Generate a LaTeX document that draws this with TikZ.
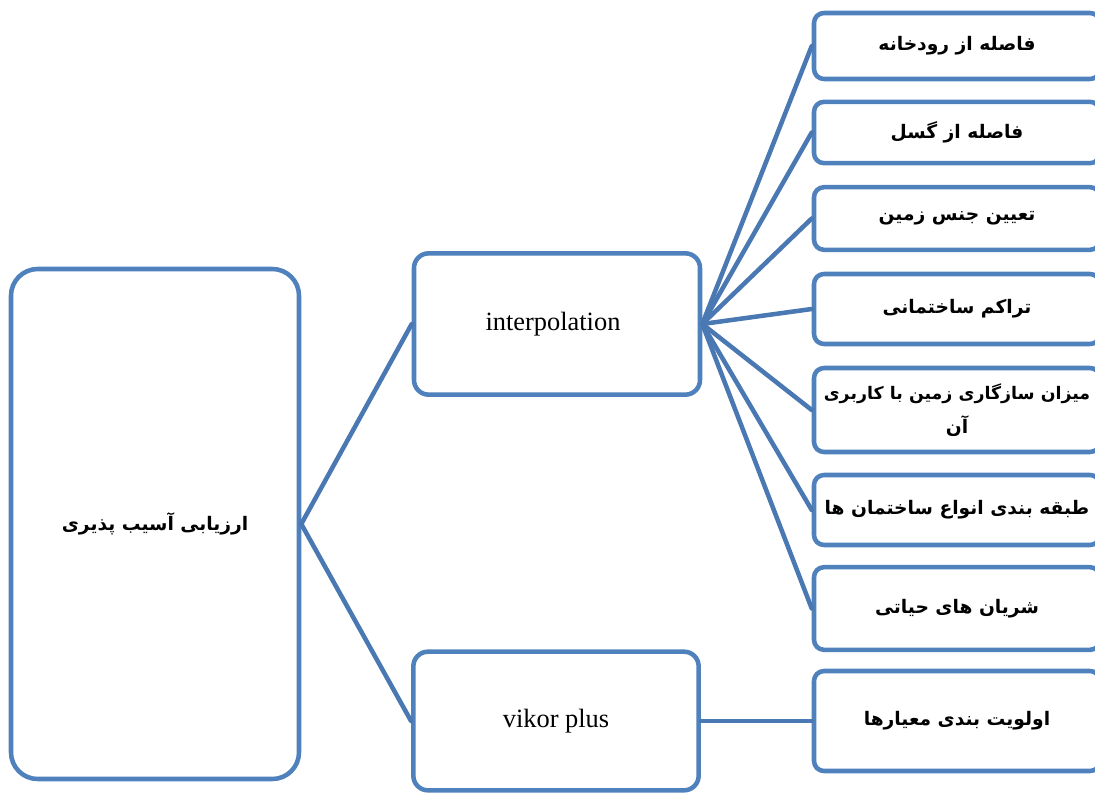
\documentclass[tikz,border=0pt]{standalone}
\usepackage{fontspec}
\setmainfont{Liberation Serif}
\newfontfamily\persianfont[Script=Arabic]{DejaVu Sans}
\TeXXeTstate=1
\definecolor{boxblue}{HTML}{4F81BD}
\definecolor{linkblue}{HTML}{4A78B2}
\newcommand{\fa}[2][14]{{\persianfont\bfseries\fontsize{#1}{20}\selectfont\beginR #2\endR}}

\begin{document}
\begin{tikzpicture}[x=0.75pt, y=-0.75pt, line join=round, line cap=round,
  box/.style={draw=boxblue, line width=3.4pt, fill=white, rounded corners=#1, inner sep=2pt, align=center},
  box/.default=7.5pt,
  link/.style={draw=linkblue, line width=3.4pt},
  latin/.style={font=\fontsize{19.8}{23}\selectfont}]
  \clip (0,0) rectangle (1095,792);

  % Ô chính
  \node[box=20pt, minimum width=216pt, minimum height=382.5pt] (main) at (155,524) {\fa{ارزیابی آسیب پذیری}};

  % روش‌ها
  \node[box=11pt, latin, minimum width=214.5pt, minimum height=106pt] (interp) at (557,324) {\hspace*{-6pt}interpolation};
  \node[box=11pt, latin, minimum width=214pt, minimum height=104pt] (vikor) at (556,721) {vikor plus};

  % معیارها
  \node[box, minimum width=214.5pt, minimum height=49.5pt] (r1) at (957,46) {\fa{فاصله از رودخانه}};
  \node[box, minimum width=214.5pt, minimum height=46pt] (r2) at (957,132.5) {\fa{فاصله از گسل}};
  \node[box, minimum width=214.5pt, minimum height=47pt] (r3) at (957,218.5) {\fa{تعیین جنس زمین}};
  \node[box, minimum width=214.5pt, minimum height=52.5pt] (r4) at (957,309) {\fa{تراکم ساختمانی}};
  \node[box, minimum width=214.5pt, minimum height=63pt, text width=206pt, font=\fontsize{14}{25}\selectfont] (r5) at (957,410) {\fa[13]{میزان سازگاری زمین با کاربری}\\\fa{آن}};
  \node[box, minimum width=214.5pt, minimum height=52.5pt] (r6) at (957,510) {\fa{طبقه بندی انواع ساختمان ها}};
  \node[box, minimum width=214.5pt, minimum height=62pt] (r7) at (957,608.5) {\fa{شریان های حیاتی}};
  \node[box, minimum width=214.5pt, minimum height=75pt] (r8) at (957,721) {\fa{اولویت بندی معیارها}};

  % اتصال‌ها
  \draw[link] (main.east) -- (interp.west);
  \draw[link] (main.east) -- (vikor.west);
  \foreach \r in {r1,r2,r3,r4,r5,r6,r7}
    \draw[link] (interp.east) -- (\r.west);
  \draw[link] (vikor.east) -- (r8.west);
\end{tikzpicture}
\end{document}
